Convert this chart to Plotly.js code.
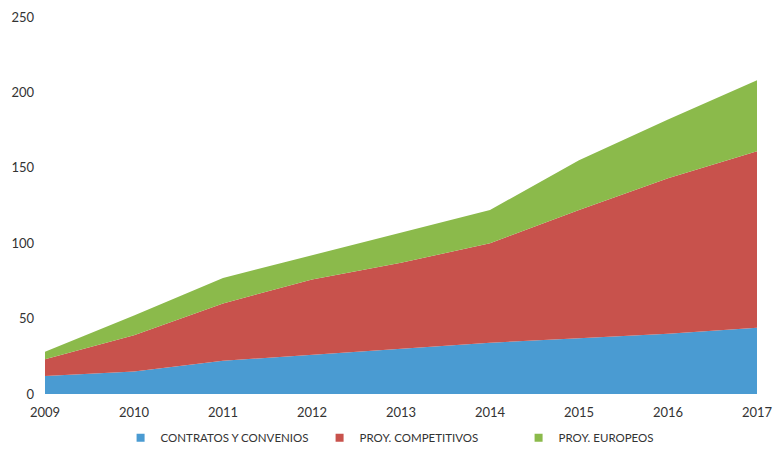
<!DOCTYPE html>
<html>
<head>
<meta charset="utf-8">
<script src="https://cdn.plot.ly/plotly-3.0.1.min.js"></script>
<style>html,body{margin:0;padding:0;background:#fff;}#chart{width:773px;height:450px;}</style>
</head>
<body>
<div id="chart"></div>
<script>
const years = [2009, 2010, 2011, 2012, 2013, 2014, 2015, 2016, 2017];
const contratos = [12, 15, 22, 26, 30, 34, 37, 40, 44];
const competitivos = [11, 24, 38, 50, 57, 66, 85, 103, 117];
const europeos = [5, 13, 17, 16, 20, 22, 33, 39, 47];
const seriesNames = ["CONTRATOS Y CONVENIOS", "PROY. COMPETITIVOS", "PROY. EUROPEOS"];
const colors = ["#4a9bd2", "#c8524c", "#8bba4b"];

const seriesValues = [contratos, competitivos, europeos];
const areaTraces = seriesValues.map((vals, i) => ({
  x: years,
  y: vals,
  name: seriesNames[i],
  legendgroup: "g" + i,
  type: "scatter",
  mode: "lines",
  stackgroup: "one",
  line: {width: 0, color: colors[i]},
  fillcolor: colors[i],
  showlegend: false
}));
// legend entries with square markers (no visible data points)
const legendTraces = seriesNames.map((nm, i) => ({
  x: [null],
  y: [null],
  name: nm,
  legendgroup: "g" + i,
  type: "scatter",
  mode: "markers",
  marker: {symbol: "square", size: 8, color: colors[i]},
  showlegend: true
}));

const layout = {
  width: 773,
  height: 450,
  margin: {l: 45, r: 16, t: 17, b: 56},
  paper_bgcolor: "#ffffff",
  plot_bgcolor: "#ffffff",
  font: {family: "Lato, 'Open Sans', sans-serif", size: 13, color: "#333333"},
  showlegend: true,
  legend: {
    orientation: "h",
    x: 0.156, xanchor: "left", xref: "container",
    y: 0.027, yanchor: "middle", yref: "container",
    font: {size: 11.5, color: "#333333"},
    itemwidth: 30,
    entrywidth: 154,
    entrywidthmode: "pixels",
    traceorder: "normal"
  },
  xaxis: {
    range: [2009, 2017],
    tickvals: years,
    ticktext: years.map(String),
    showgrid: false,
    zeroline: false,
    showline: false,
    ticks: "",
    ticklabelstandoff: 9,
    automargin: false,
    tickfont: {size: 13, color: "#333333"}
  },
  yaxis: {
    range: [0, 250],
    dtick: 50,
    showgrid: false,
    zeroline: false,
    showline: false,
    ticks: "",
    ticklabelstandoff: 10,
    automargin: false,
    tickfont: {size: 13, color: "#333333"}
  }
};

Plotly.newPlot("chart", areaTraces.concat(legendTraces), layout, {displayModeBar: false, staticPlot: true});
</script>
</body>
</html>
